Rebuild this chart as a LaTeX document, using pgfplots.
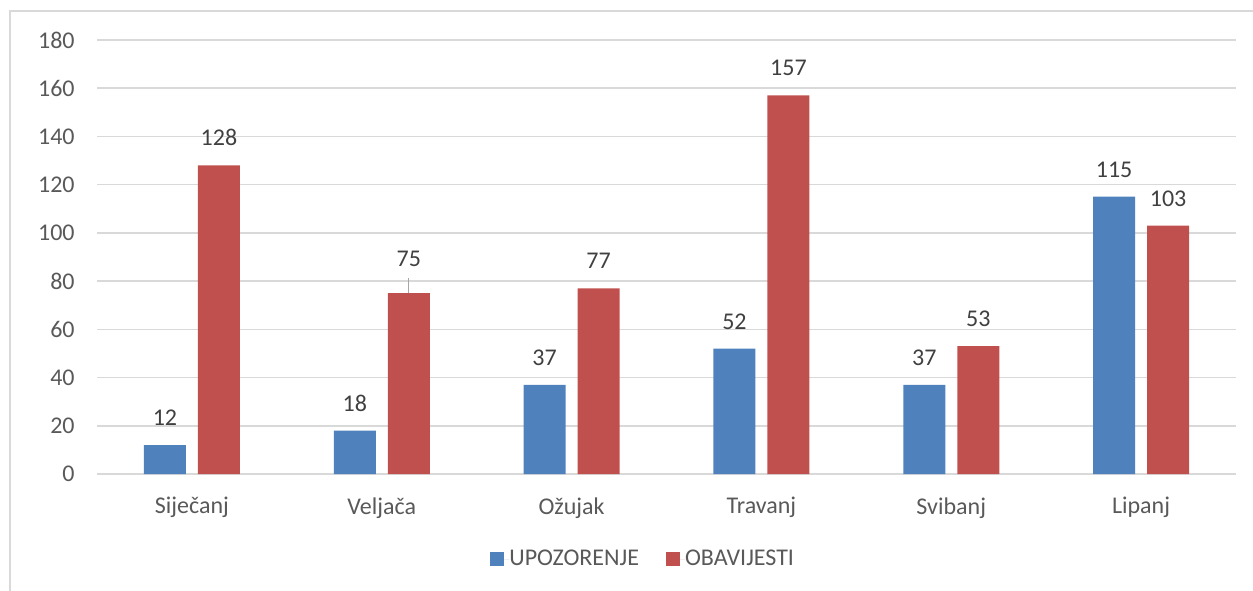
\documentclass[border=0pt]{standalone}
\usepackage{pgfplots}
\pgfplotsset{compat=1.18}
\usepackage{pgfplotstable}
\usepackage{fontspec}
\setmainfont{Carlito}
\definecolor{cblue}{HTML}{4F81BD}
\definecolor{cred}{HTML}{C0504D}
\definecolor{gridc}{HTML}{D9D9D9}
\definecolor{ticktext}{HTML}{595959}
\definecolor{labtext}{HTML}{404040}
\pgfplotstableread{
x y dy
0 12 0
1 18 0
2 37 0
3 52 0
4 37 0
5 115 0
}\upoz
\pgfplotstableread{
x y dy
0 128 0
1 75 3.5
2 77 0
3 157 0
4 53 0
5 103 0
}\obav
\begin{document}
\begin{tikzpicture}
\useasboundingbox (-48.5pt,-58pt) rectangle (578pt,237pt);
\draw[color=gridc, line width=0.75pt] (-43.5pt,-70pt) -- (-43.5pt,231.5pt) -- (590pt,231.5pt);
\begin{axis}[
  at={(0,0)}, anchor=south west,
  scale only axis, width=569.5pt, height=217pt,
  ybar=6pt, bar width=21pt,
  xmin=-0.5, xmax=5.5, ymin=0, ymax=180,
  ytick={0,20,...,180},
  xtick=data,
  xticklabels={Siječanj,Veljača,Ožujak,Travanj,Svibanj,Lipanj},
  axis line style={draw=none},
  major tick length=0pt,
  ymajorgrids, grid style={color=gridc, line width=0.75pt},
  font=\fontsize{12}{14}\selectfont,
  /pgf/number format/assume math mode=true,
  ticklabel style={color=ticktext, font=\fontsize{12}{14}\selectfont},
  yticklabel style={inner sep=0pt, anchor=east, xshift=-11pt},
  xticklabel style={inner sep=0pt, anchor=north, yshift=-11.5pt},
  nodes near coords,
  visualization depends on={\thisrow{dy} \as \dy},
  every node near coord/.append style={font=\fontsize{12}{14}\selectfont, color=labtext, anchor=south, inner sep=0pt, yshift=9.5pt+\dy pt},
  legend columns=2,
  legend style={draw=none, at={(0.345,-0.196)}, anchor=west, inner sep=0pt,
    font=\fontsize{12}{14}\selectfont, text=ticktext,
    /tikz/every even column/.append style={column sep=13.5pt},
    nodes={inner sep=0pt}},
  legend image code/.code={\fill[#1,draw=none] (0pt,-3.5pt) rectangle (7pt,3.5pt); \path (0pt,0pt) -- (9.5pt,0pt);},
]
\addplot[fill=cblue, draw=none] table[x=x,y=y] {\upoz};
\addplot[fill=cred, draw=none] table[x=x,y=y] {\obav};
\legend{UPOZORENJE, OBAVIJESTI}
\draw[color=gray!70, line width=0.6pt] ([xshift=13.5pt]axis cs:1,75) -- ++(0pt,7.5pt);
\end{axis}
\end{tikzpicture}
\end{document}
